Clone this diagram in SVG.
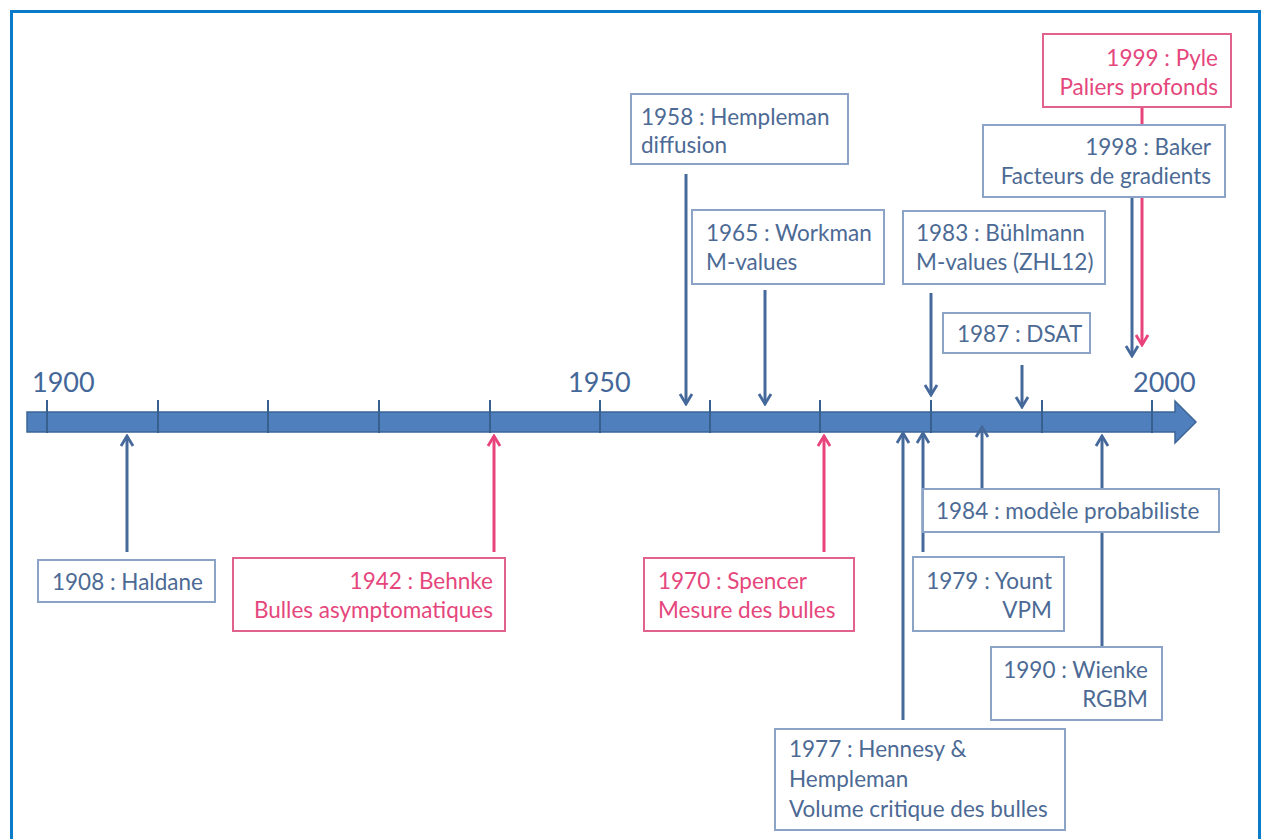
<svg xmlns="http://www.w3.org/2000/svg" width="1266" height="839" viewBox="0 0 1266 839">
<style>
.box{fill:#fff;stroke:#8aa3c6;stroke-width:2}
.pbox{fill:#fff;stroke:#e2628e;stroke-width:2}
.t{font-family:Lato,"Liberation Sans",sans-serif;font-size:22.5px;fill:#4c6a94}
.pt{font-family:Lato,"Liberation Sans",sans-serif;font-size:22.5px;fill:#e5467c}
.yr{font-family:Lato,"Liberation Sans",sans-serif;font-size:27px;fill:#44679a}
.r{text-anchor:end}
.ln{stroke:#46699b;stroke-width:3;fill:none}
.pln{stroke:#e8437b;stroke-width:3;fill:none}
.tick{stroke:#37608f;stroke-width:2}
</style>
<defs>
<marker id="ab" viewBox="-12 -8 14 16" refX="0" refY="0" markerWidth="14" markerHeight="16" markerUnits="userSpaceOnUse" orient="auto">
<path d="M-10,-6 L0,0 L-10,6" fill="none" stroke="#46699b" stroke-width="2.8"/>
</marker>
<marker id="ap" viewBox="-12 -8 14 16" refX="0" refY="0" markerWidth="14" markerHeight="16" markerUnits="userSpaceOnUse" orient="auto">
<path d="M-10,-6 L0,0 L-10,6" fill="none" stroke="#e8437b" stroke-width="2.8"/>
</marker>
</defs>
<rect width="1266" height="839" fill="#fff"/>
<path d="M11.5,845 V11.5 H1259.5 V845" fill="none" stroke="#0a7bc9" stroke-width="3"/>

<g id="axis">
<polygon points="27,412 1175,412 1175,401 1196,422 1175,443 1175,432 27,432" fill="#4f7fbc" stroke="#3d6596" stroke-width="1.5"/>
<g class="tick">
<line x1="47" y1="400" x2="47" y2="433"/>
<line x1="158" y1="400" x2="158" y2="433"/>
<line x1="268" y1="400" x2="268" y2="433"/>
<line x1="379" y1="400" x2="379" y2="433"/>
<line x1="490" y1="400" x2="490" y2="433"/>
<line x1="600" y1="400" x2="600" y2="433"/>
<line x1="710" y1="400" x2="710" y2="433"/>
<line x1="820" y1="400" x2="820" y2="433"/>
<line x1="931" y1="400" x2="931" y2="433"/>
<line x1="1042" y1="400" x2="1042" y2="433"/>
<line x1="1152" y1="400" x2="1152" y2="433"/>
</g>
<text class="yr" x="32" y="392">1900</text>
<text class="yr" x="568" y="392">1950</text>
<text class="yr" x="1133" y="392">2000</text>
</g>

<g id="connectors">
<line class="ln" x1="686" y1="174" x2="686" y2="404" marker-end="url(#ab)"/>
<line class="ln" x1="765" y1="290" x2="765" y2="404" marker-end="url(#ab)"/>
<line class="ln" x1="931" y1="293" x2="931" y2="395" marker-end="url(#ab)"/>
<line class="ln" x1="1022" y1="365" x2="1022" y2="407" marker-end="url(#ab)"/>
<line class="pln" x1="1142" y1="107" x2="1142" y2="345" marker-end="url(#ap)"/>
<line class="ln" x1="1132" y1="197" x2="1132" y2="356" marker-end="url(#ab)"/>
<line class="ln" x1="127" y1="552" x2="127" y2="436" marker-end="url(#ab)"/>
<line class="pln" x1="494" y1="552" x2="494" y2="436" marker-end="url(#ap)"/>
<line class="pln" x1="824" y1="552" x2="824" y2="436" marker-end="url(#ap)"/>
<line class="ln" x1="903" y1="720" x2="903" y2="433" marker-end="url(#ab)"/>
<line class="ln" x1="923" y1="552" x2="923" y2="433" marker-end="url(#ab)"/>
<line class="ln" x1="982" y1="489" x2="982" y2="427" marker-end="url(#ab)"/>
<line class="ln" x1="1102" y1="647" x2="1102" y2="436" marker-end="url(#ab)"/>
</g>

<g id="n1958"><rect class="box" x="631" y="94" width="217" height="70"/>
<text class="t" x="641" y="125">1958 : Hempleman</text><text class="t" x="641" y="153">diffusion</text></g>
<g id="n1965"><rect class="box" x="692" y="210" width="192" height="74"/>
<text class="t" x="706" y="241">1965 : Workman</text><text class="t" x="706" y="270">M-values</text></g>
<g id="n1983"><rect class="box" x="903" y="211" width="202" height="73"/>
<text class="t" x="916" y="241">1983 : Bühlmann</text><text class="t" x="916" y="270">M-values (ZHL12)</text></g>
<g id="n1987"><rect class="box" x="943" y="313" width="147" height="40"/>
<text class="t" x="957" y="342">1987 : DSAT</text></g>
<g id="n1999"><rect class="pbox" x="1043" y="34" width="188" height="73"/>
<text class="pt r" x="1218" y="66">1999 : Pyle</text><text class="pt r" x="1218" y="95">Paliers profonds</text></g>
<g id="n1998"><rect class="box" x="983" y="125" width="242" height="72"/>
<text class="t r" x="1211" y="155">1998 : Baker</text><text class="t r" x="1211" y="184">Facteurs de gradients</text></g>
<g id="n1908"><rect class="box" x="38" y="560" width="177" height="42"/>
<text class="t" x="52" y="590">1908 : Haldane</text></g>
<g id="n1942"><rect class="pbox" x="233" y="558" width="272" height="73"/>
<text class="pt r" x="493" y="589">1942 : Behnke</text><text class="pt r" x="493" y="618">Bulles asymptomatiques</text></g>
<g id="n1970"><rect class="pbox" x="644" y="558" width="210" height="73"/>
<text class="pt" x="658" y="589">1970 : Spencer</text><text class="pt" x="658" y="618">Mesure des bulles</text></g>
<g id="n1984"><rect class="box" x="923" y="489" width="296" height="43"/>
<text class="t" x="936" y="519">1984 : modèle probabiliste</text></g>
<g id="n1979"><rect class="box" x="913" y="557" width="151" height="74"/>
<text class="t r" x="1052" y="589">1979 : Yount</text><text class="t r" x="1052" y="618">VPM</text></g>
<g id="n1990"><rect class="box" x="991" y="647" width="171" height="73"/>
<text class="t r" x="1148" y="678">1990 : Wienke</text><text class="t r" x="1148" y="707">RGBM</text></g>
<g id="n1977"><rect class="box" x="775" y="729" width="290" height="101"/>
<text class="t" x="789" y="757">1977 : Hennesy &amp;</text><text class="t" x="789" y="787">Hempleman</text><text class="t" x="789" y="817">Volume critique des bulles</text></g>
</svg>
